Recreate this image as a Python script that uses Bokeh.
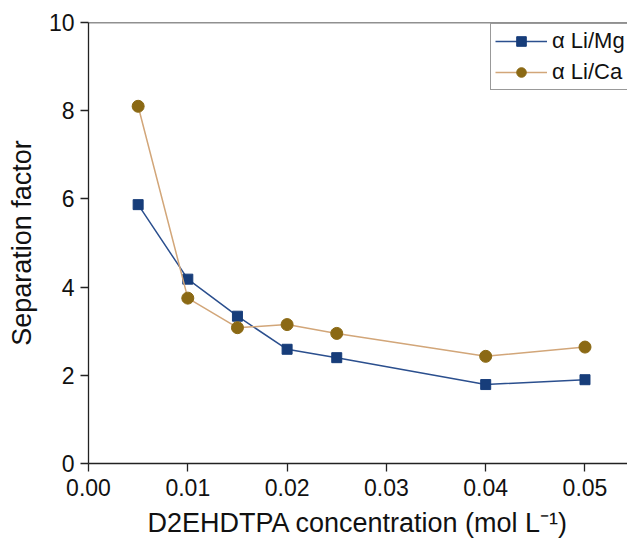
from bokeh.plotting import figure
from bokeh.models import Range1d, Span, FixedTicker, Legend, LegendItem
from bokeh.embed import file_html
from bokeh.resources import INLINE

conc = [0.005, 0.01, 0.015, 0.02, 0.025, 0.04, 0.05]
alpha_li_mg = [5.87, 4.18, 3.34, 2.59, 2.40, 1.79, 1.90]
alpha_li_ca = [8.10, 3.75, 3.08, 3.15, 2.95, 2.43, 2.64]
x_ticks = [0.00, 0.01, 0.02, 0.03, 0.04, 0.05]
y_ticks = [0, 2, 4, 6, 8, 10]

FONT = "Liberation Sans"

p = figure(width=627, height=546, output_backend="svg", toolbar_location=None,
           x_range=Range1d(0, 0.05428), y_range=Range1d(0, 10),
           min_border_left=88, min_border_right=0, min_border_top=22,
           min_border_bottom=83)
p.outline_line_color = None
p.xgrid.visible = False
p.ygrid.visible = False
p.background_fill_color = "white"
p.border_fill_color = "white"

for ax in (p.xaxis[0], p.yaxis[0]):
    ax.axis_line_color = "#222222"
    ax.axis_line_width = 1.3
    ax.major_tick_line_color = "#222222"
    ax.major_tick_line_width = 1.3
    ax.major_tick_in = 0
    ax.major_tick_out = 8
    ax.minor_tick_line_color = None
    ax.major_label_text_font = FONT
    ax.major_label_text_font_size = "23px"
    ax.major_label_text_color = "#111111"
    ax.axis_label_text_font = FONT
    ax.axis_label_text_font_size = "27px"
    ax.axis_label_text_font_style = "normal"
    ax.axis_label_text_color = "#111111"

p.xaxis.ticker = FixedTicker(ticks=x_ticks)
p.yaxis.ticker = FixedTicker(ticks=y_ticks)
p.xaxis.formatter.use_scientific = False
p.xaxis.major_label_overrides = {t: f"{t:.2f}" for t in x_ticks}
p.xaxis.major_label_standoff = 7
p.yaxis.major_label_standoff = 6
p.xaxis.axis_label = "D2EHDTPA concentration (mol L\u207b\u00b9)"
p.yaxis.axis_label = "Separation factor"
p.xaxis.axis_label_standoff = 9
p.yaxis.axis_label_standoff = 9

p.add_layout(Span(location=10, dimension="width", line_color="#222222", line_width=1.5))

mg_line = p.line(conc, alpha_li_mg, line_color="#2b4f8e", line_width=1.5)
mg_pts = p.scatter(conc, alpha_li_mg, marker="square", size=10,
                   fill_color="#173d7a", line_color="#173d7a")
ca_line = p.line(conc, alpha_li_ca, line_color="#d2a679", line_width=1.5)
ca_pts = p.scatter(conc, alpha_li_ca, marker="circle", size=12,
                   fill_color="#8b6914", line_color="#8b6914")

legend = Legend(items=[
    LegendItem(label="\u03b1 Li/Mg", renderers=[mg_line, mg_pts]),
    LegendItem(label="\u03b1 Li/Ca", renderers=[ca_line, ca_pts]),
], location=(402, 373))
legend.label_text_font = FONT
legend.label_text_font_size = "22px"
legend.label_text_color = "#111111"
legend.glyph_width = 52
legend.glyph_height = 24
legend.label_standoff = 5
legend.spacing = 5
legend.padding = 4
legend.margin = 0
legend.border_line_color = "#333333"
legend.border_line_width = 1
legend.background_fill_color = "white"
legend.background_fill_alpha = 1
p.add_layout(legend, "center")

open("out.html", "w").write(file_html(p, INLINE))
